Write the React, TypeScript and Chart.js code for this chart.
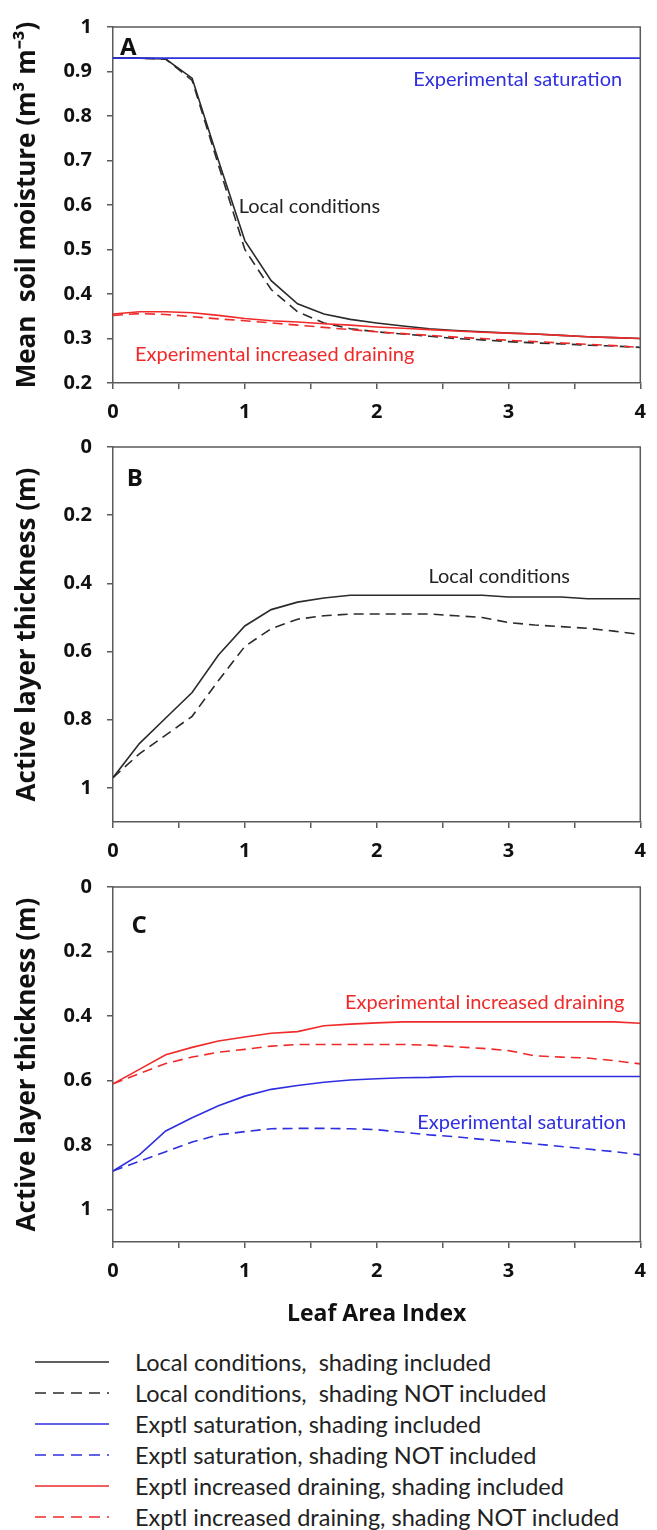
import React, { useEffect, useRef } from 'react';
import { Chart, registerables } from 'chart.js';

Chart.register(...registerables);

const FONT = 'Lato';
const BOLD_FONT = 'Open Sans';

// Leaf Area Index (x values)
const LAI = [0, 0.2, 0.4, 0.6, 0.8, 1.0, 1.2, 1.4, 1.6, 1.8, 2.0, 2.2, 2.4, 2.6, 2.8, 3.0, 3.2, 3.4, 3.6, 3.8, 4.0];

// Panel A: mean soil moisture (m3 m-3)
const A_localShaded = [0.93, 0.93, 0.928, 0.885, 0.70, 0.52, 0.43, 0.378, 0.355, 0.343, 0.335, 0.328, 0.322, 0.318, 0.315, 0.312, 0.31, 0.307, 0.304, 0.302, 0.30];
const A_localNoShade = [0.93, 0.93, 0.928, 0.88, 0.69, 0.50, 0.41, 0.36, 0.335, 0.322, 0.315, 0.31, 0.305, 0.30, 0.297, 0.293, 0.29, 0.288, 0.285, 0.283, 0.28];
const A_satShaded = [0.93, 0.93, 0.93, 0.93, 0.93, 0.93, 0.93, 0.93, 0.93, 0.93, 0.93, 0.93, 0.93, 0.93, 0.93, 0.93, 0.93, 0.93, 0.93, 0.93, 0.93];
const A_drainShaded = [0.355, 0.36, 0.36, 0.358, 0.352, 0.345, 0.34, 0.337, 0.333, 0.33, 0.326, 0.323, 0.32, 0.317, 0.314, 0.312, 0.31, 0.307, 0.304, 0.302, 0.30];
const A_drainNoShade = [0.352, 0.356, 0.354, 0.349, 0.344, 0.34, 0.335, 0.33, 0.325, 0.32, 0.315, 0.311, 0.307, 0.303, 0.3, 0.296, 0.293, 0.29, 0.287, 0.284, 0.28];

// Panel B: active layer thickness (m), local conditions
const B_localShaded = [0.97, 0.87, 0.795, 0.72, 0.61, 0.525, 0.477, 0.455, 0.443, 0.435, 0.435, 0.435, 0.435, 0.435, 0.435, 0.44, 0.44, 0.44, 0.445, 0.445, 0.445];
const B_localNoShade = [0.97, 0.90, 0.845, 0.79, 0.685, 0.585, 0.533, 0.505, 0.495, 0.49, 0.49, 0.49, 0.49, 0.495, 0.50, 0.515, 0.522, 0.527, 0.532, 0.54, 0.55];

// Panel C: active layer thickness (m), experimental treatments
const C_drainShaded = [0.61, 0.565, 0.52, 0.497, 0.477, 0.465, 0.453, 0.448, 0.43, 0.425, 0.421, 0.418, 0.418, 0.418, 0.418, 0.418, 0.418, 0.418, 0.418, 0.418, 0.422];
const C_drainNoShade = [0.61, 0.578, 0.547, 0.527, 0.512, 0.503, 0.493, 0.488, 0.488, 0.488, 0.488, 0.488, 0.49, 0.495, 0.50, 0.507, 0.523, 0.527, 0.53, 0.538, 0.548];
const C_satShaded = [0.88, 0.83, 0.756, 0.715, 0.678, 0.648, 0.627, 0.615, 0.605, 0.598, 0.594, 0.591, 0.59, 0.587, 0.587, 0.587, 0.587, 0.587, 0.587, 0.587, 0.587];
const C_satNoShade = [0.88, 0.85, 0.82, 0.79, 0.768, 0.758, 0.749, 0.748, 0.748, 0.749, 0.752, 0.76, 0.768, 0.774, 0.782, 0.789, 0.796, 0.804, 0.812, 0.82, 0.83];

const LEGEND_LABELS = [
  'Local conditions,  shading included',
  'Local conditions,  shading NOT included',
  'Exptl saturation, shading included',
  'Exptl saturation, shading NOT included',
  'Exptl increased draining, shading included',
  'Exptl increased draining, shading NOT included',
];

const BLACK = '#2b2b2b';
const BLUE = '#2f2fe0';
const RED = '#f02a2a';
const AXIS = '#5a5a5a';
const LEGEND_COLORS = [BLACK, BLACK, BLUE, BLUE, RED, RED];
const LEGEND_DASHED = [false, true, false, true, false, true];
const DASH = [10, 6];

type Note = { text: string; x: number; y: number; color: string; size: number; bold?: boolean; align?: CanvasTextAlign };

const framePlugin = {
  id: 'frame',
  afterDraw(chart: any, _args: any, opts: any) {
    const { ctx, chartArea: a, scales } = chart;
    ctx.save();
    ctx.strokeStyle = AXIS;
    ctx.lineWidth = 1.5;
    ctx.beginPath();
    ctx.moveTo(a.left, a.top);
    ctx.lineTo(a.right, a.top);
    ctx.lineTo(a.right, a.bottom);
    ctx.stroke();
    const notes: Note[] = opts.notes || [];
    for (const n of notes) {
      ctx.font = n.bold ? `bold ${n.size}px "${BOLD_FONT}"` : `${n.size}px ${FONT}`;
      ctx.fillStyle = n.color;
      ctx.textAlign = n.align || 'center';
      ctx.textBaseline = 'middle';
      ctx.fillText(n.text, scales.x.getPixelForValue(n.x), scales.y.getPixelForValue(n.y));
    }
    ctx.restore();
  },
};

function series(values: number[], color: string, dashed: boolean) {
  return {
    data: LAI.map((x, i) => ({ x, y: values[i] })),
    borderColor: color,
    borderWidth: 1.6,
    borderDash: dashed ? DASH : [],
    pointRadius: 0,
    tension: 0,
    fill: false,
  };
}

type PanelSpec = {
  top: number;
  height: number;
  padTop: number;
  xHeight: number;
  yMin: number;
  yMax: number;
  yStep: number;
  reverse: boolean;
  yTitle: string;
  xTitle?: string;
  datasets: any[];
  notes: Note[];
};

const tickFont = { family: BOLD_FONT, size: 20, weight: 'bold' as const };

function buildConfig(p: PanelSpec): any {
  return {
    type: 'line',
    data: { datasets: p.datasets },
    plugins: [framePlugin],
    options: {
      animation: false,
      responsive: false,
      layout: { padding: { top: p.padTop, right: 9, left: 0, bottom: 0 } },
      plugins: {
        legend: { display: false },
        tooltip: { enabled: false },
        frame: { notes: p.notes },
      },
      scales: {
        x: {
          type: 'linear',
          min: 0,
          max: 4,
          afterFit: (s: any) => { s.height = p.xHeight; },
          ticks: {
            stepSize: 0.5,
            autoSkip: false,
            maxRotation: 0,
            padding: 11,
            color: '#111',
            font: tickFont,
            callback: (v: any) => (Math.abs(v - Math.round(v)) < 1e-6 ? String(Math.round(v)) : ''),
          },
          grid: { drawOnChartArea: false, drawTicks: true, tickLength: 6, color: AXIS, lineWidth: 1.5 },
          border: { display: true, color: AXIS, width: 1.5 },
          title: p.xTitle
            ? { display: true, text: p.xTitle, color: '#111', font: { family: BOLD_FONT, size: 23, weight: 'bold' }, padding: { top: 0, bottom: 2 } }
            : { display: false },
        },
        y: {
          type: 'linear',
          min: p.yMin,
          max: p.yMax,
          reverse: p.reverse,
          afterFit: (s: any) => { s.width = 113; },
          ticks: {
            stepSize: p.yStep,
            includeBounds: false,
            padding: 15,
            color: '#111',
            font: tickFont,
            callback: (v: any) => String(Number(Number(v).toFixed(1))),
          },
          grid: { drawOnChartArea: false, drawTicks: true, tickLength: 6, color: AXIS, lineWidth: 1.5 },
          border: { display: true, color: AXIS, width: 1.5 },
          title: { display: true, text: p.yTitle, color: '#111', font: { family: BOLD_FONT, size: 26, weight: 'bold' }, padding: { top: 12, bottom: 0 } },
        },
      },
    },
  };
}

const PANELS: PanelSpec[] = [
  {
    top: 0, height: 430, padTop: 18, xHeight: 47,
    yMin: 0.2, yMax: 1.0, yStep: 0.1, reverse: false,
    yTitle: 'Mean  soil moisture (m³ m⁻³)',
    datasets: [
      series(A_satShaded, BLUE, false),
      series(A_drainNoShade, RED, true),
      series(A_drainShaded, RED, false),
      series(A_localNoShade, BLACK, true),
      series(A_localShaded, BLACK, false),
    ],
    notes: [
      { text: 'A', x: 0.115, y: 0.952, color: '#111', size: 24, bold: true },
      { text: 'Experimental saturation', x: 3.07, y: 0.882, color: BLUE, size: 20 },
      { text: 'Local conditions', x: 1.49, y: 0.596, color: '#222', size: 20 },
      { text: 'Experimental increased draining', x: 1.226, y: 0.265, color: RED, size: 20 },
    ],
  },
  {
    top: 420, height: 460, padTop: 20, xHeight: 58,
    yMin: 0, yMax: 1.1, yStep: 0.2, reverse: true,
    yTitle: 'Active layer thickness (m)',
    datasets: [
      series(B_localNoShade, BLACK, true),
      series(B_localShaded, BLACK, false),
    ],
    notes: [
      { text: 'B', x: 0.165, y: 0.095, color: '#111', size: 24, bold: true },
      { text: 'Local conditions', x: 2.93, y: 0.38, color: '#222', size: 20 },
    ],
  },
  {
    top: 860, height: 470, padTop: 18, xHeight: 88,
    yMin: 0, yMax: 1.1, yStep: 0.2, reverse: true,
    yTitle: 'Active layer thickness (m)',
    xTitle: 'Leaf Area Index',
    datasets: [
      series(C_satNoShade, BLUE, true),
      series(C_satShaded, BLUE, false),
      series(C_drainNoShade, RED, true),
      series(C_drainShaded, RED, false),
    ],
    notes: [
      { text: 'C', x: 0.198, y: 0.12, color: '#111', size: 24, bold: true },
      { text: 'Experimental increased draining', x: 2.82, y: 0.358, color: RED, size: 20 },
      { text: 'Experimental saturation', x: 3.10, y: 0.729, color: BLUE, size: 20 },
    ],
  },
];

function Panel({ spec }: { spec: PanelSpec }) {
  const ref = useRef<HTMLCanvasElement | null>(null);
  useEffect(() => {
    if (!ref.current) return;
    const chart = new Chart(ref.current, buildConfig(spec));
    return () => chart.destroy();
  }, [spec]);
  return (
    <canvas
      ref={ref}
      width={657}
      height={spec.height}
      style={{ position: 'absolute', left: 0, top: spec.top, width: 657, height: spec.height }}
    />
  );
}

export default function App() {
  const legendTop = 1362;
  const legendStep = 31;
  return (
    <div style={{ position: 'absolute', left: 0, top: 0, width: 657, height: 1530, background: '#fff', overflow: 'hidden' }}>
      {PANELS.map((p, i) => (
        <Panel key={i} spec={p} />
      ))}
      {LEGEND_LABELS.map((label, i) => (
        <div
          key={label}
          style={{
            position: 'absolute',
            left: 0,
            top: legendTop + i * legendStep - 15,
            height: 30,
            width: 657,
            display: 'flex',
            alignItems: 'center',
          }}
        >
          <svg width={110} height={30} style={{ display: 'block' }}>
            <line
              x1={35}
              x2={109}
              y1={15}
              y2={15}
              stroke={LEGEND_COLORS[i]}
              strokeWidth={1.6}
              strokeDasharray={LEGEND_DASHED[i] ? '11 7' : undefined}
            />
          </svg>
          <span
            style={{
              marginLeft: 25,
              fontFamily: FONT,
              fontSize: 23.5,
              color: '#222',
              whiteSpace: 'pre',
              lineHeight: '30px',
            }}
          >
            {label}
          </span>
        </div>
      ))}
    </div>
  );
}
